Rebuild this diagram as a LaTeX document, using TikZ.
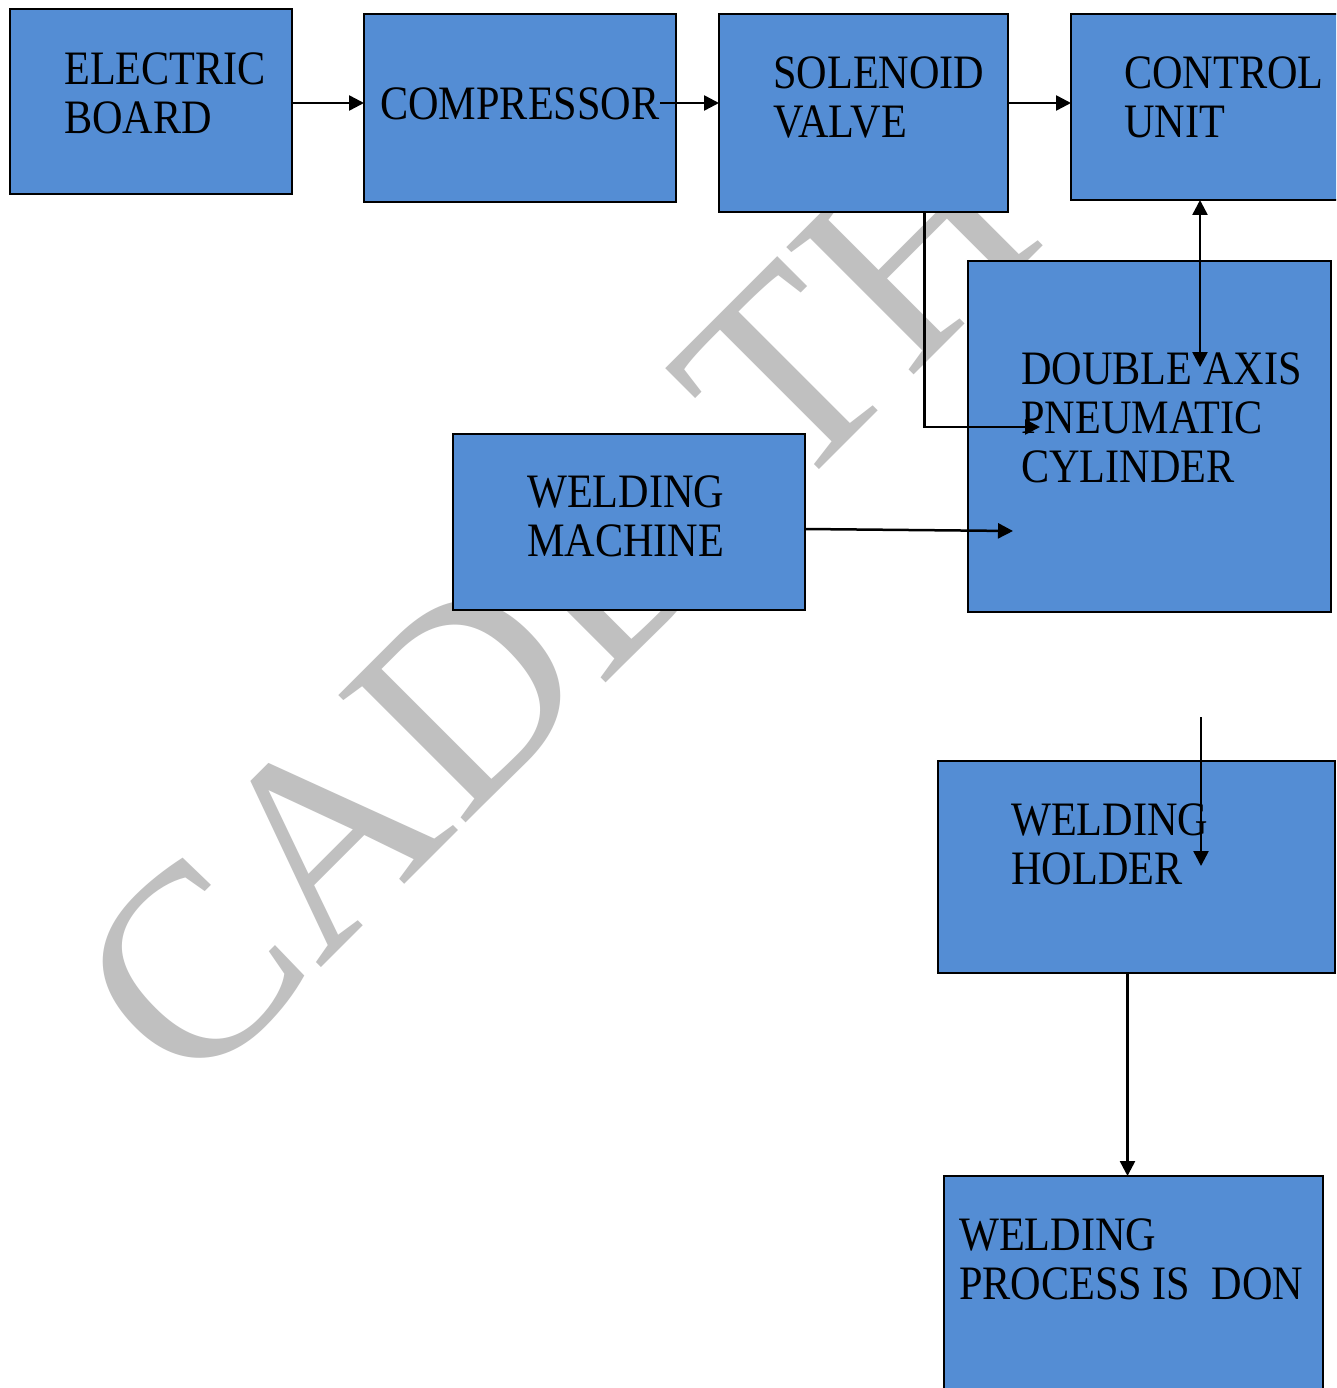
\documentclass[tikz,border=0pt]{standalone}
\usepackage{fontspec}
\setmainfont{Liberation Serif}[FakeStretch=0.88]
\newfontfamily\wmfont{Liberation Serif}
\usetikzlibrary{arrows.meta,calc}
\definecolor{boxblue}{RGB}{84,141,212}
\definecolor{wmgray}{RGB}{192,192,192}
\begin{document}
\begin{tikzpicture}[x=1pt,y=1pt,
  blk/.style={draw=black, line width=2.7pt, fill=boxblue, inner sep=0pt, outer sep=0pt, anchor=north west},
  lbl/.style={anchor=north west, inner sep=0pt, align=left, font=\fontsize{48}{49}\selectfont},
  arr/.style={line width=2.5pt, -{Triangle[length=15pt,width=15pt]}},
  arrb/.style={line width=2.5pt, {Triangle[length=15pt,width=15pt]}-{Triangle[length=15pt,width=15pt]}},
  wm/.style={anchor=base west, inner sep=0pt, rotate=45, transform shape, text=wmgray, font=\wmfont\fontsize{275}{275}\selectfont}]
\useasboundingbox (0,0) rectangle (1336,-1388);
\fill[white] (0,0) rectangle (1336,-1388);
\clip (0,0) rectangle (1336,-1388);
% watermark
\node[wm] (wmark) at (190,-1099) {CADD TH};
% boxes
\node[blk, minimum width=282pt, minimum height=185pt] (eb) at (10,-9) {};
\node[blk, minimum width=312pt, minimum height=188pt] (comp) at (364,-14) {};
\node[blk, minimum width=289pt, minimum height=198pt] (sv) at (719,-14) {};
\node[blk, minimum width=280pt, minimum height=186pt] (cu) at (1071,-14) {};
\node[blk, minimum width=363pt, minimum height=351pt] (da) at (968,-261) {};
\node[blk, minimum width=352pt, minimum height=176pt] (wm) at (453,-434) {};
\node[blk, minimum width=397pt, minimum height=212pt] (wh) at (938,-761) {};
\node[blk, minimum width=379pt, minimum height=230pt] (wp) at (944,-1176) {};
% labels (first baseline minus strut height 34.3)
\node[lbl] (ebtxt) at (64,{-84+34.3}) {\strut ELECTRIC\\BOARD};
\node[lbl] (comptxt) at (380,{-119+34.3}) {\strut COMPRESSOR};
\node[lbl] (svtxt) at (773,{-88+34.3}) {\strut SOLENOID\\VALVE};
\node[lbl] (cutxt) at (1124,{-88+34.3}) {\strut CONTROL\\UNIT};
\node[lbl] (datxt) at (1021,{-384+34.3}) {\strut DOUBLE AXIS\\PNEUMATIC\\CYLINDER};
\node[lbl] (wmtxt) at (527,{-507+34.3}) {\strut WELDING\\MACHINE};
\node[lbl] (whtxt) at (1011,{-835+34.3}) {\strut WELDING\\HOLDER};
\node[lbl] (wptxt) at (959,{-1250+34.3}) {\strut WELDING\\PROCESS IS\ \ DON};
% connector end points
\coordinate (daIn1) at (1040,-427);
\coordinate (daIn2) at (1200,-367);
\coordinate (daIn3) at (1013,-531);
\coordinate (whTop) at (1201,-717);
\coordinate (whIn) at (1201,-866);
% connectors
\draw[arr] ([yshift=-1.5pt]eb.east) -- ([yshift=-1.5pt]eb.east -| comp.west);
\draw[arr] ([yshift=-1.5pt]comptxt.east |- eb.east) -- ([yshift=-1.5pt]eb.east -| sv.west);
\draw[arr] ([yshift=-1.5pt]eb.east -| sv.east) -- ([yshift=-1.5pt]eb.east -| cu.west);
\draw[arr] ([xshift=61pt]sv.south) |- (daIn1);
\draw[arrb] (cu.south -| daIn2) -- (daIn2);
\draw[arr] ([yshift=-7pt]wm.east) -- (daIn3);
\draw[arr] (whTop) -- (whIn);
\draw[arr] ([xshift=-9pt]wh.south) -- ([xshift=-9pt]wh.south |- wp.north);
\end{tikzpicture}
\end{document}
